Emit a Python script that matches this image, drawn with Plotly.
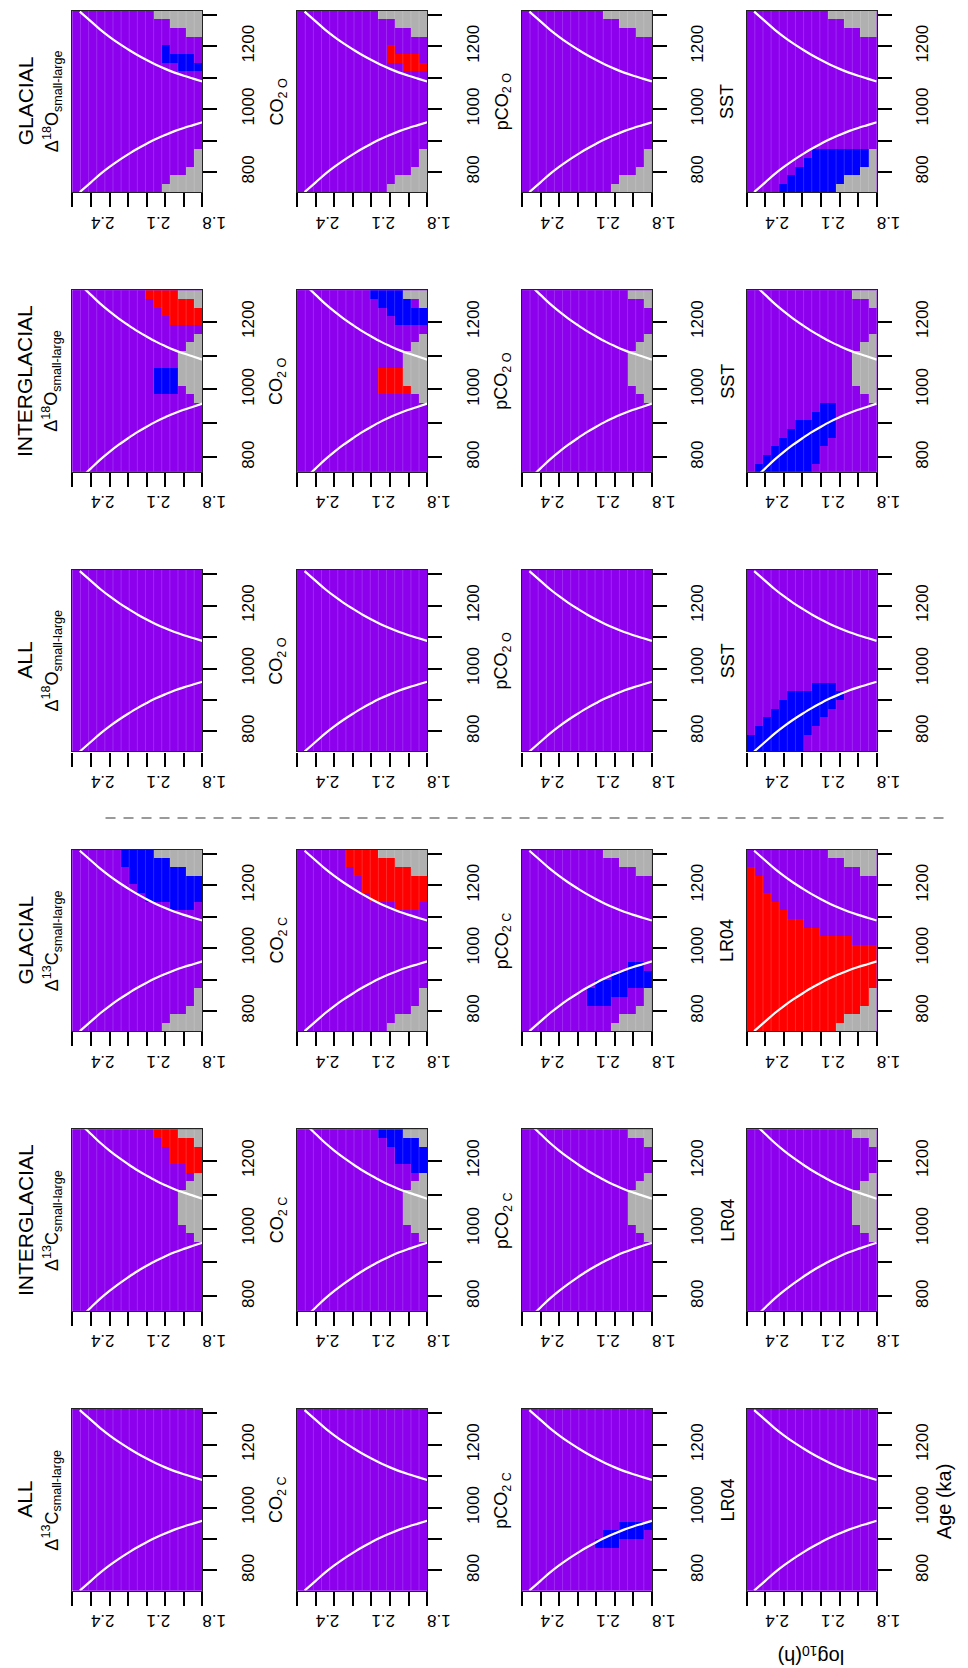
import numpy as np
import plotly.graph_objects as go

W, H = 968, 1668
PURPLE = "#8C00EE"
GRAY = "#B0B0B0"
BLUE = "#0000FF"
RED = "#FF0000"
FONT = "Liberation Sans, Arial, sans-serif"

# ---------------- data ----------------
periods = ["GLACIAL", "INTERGLACIAL", "ALL", "GLACIAL", "INTERGLACIAL", "ALL"]
iso_labels = ["Δ<sup>18</sup>O<sub>small-large</sub>"] * 3 + ["Δ<sup>13</sup>C<sub>small-large</sub>"] * 3
var_labels_O = ["CO<sub>2 O</sub>", "pCO<sub>2 O</sub>", "SST"]
var_labels_C = ["CO<sub>2 C</sub>", "pCO<sub>2 C</sub>", "LR04"]

# age grid (cell centres, ka) per period
age_grid = {"GLACIAL": (750, 1300), "INTERGLACIAL": (770, 1280), "ALL": (750, 1300)}
n_age, n_h = 21, 16
h_lo, h_hi = 1.8, 2.5

h_ticks = [2.4, 2.1, 1.8]
h_minor_ticks = [2.5, 2.3, 2.2, 2.0, 1.9]
age_ticks = [800, 1000, 1200]
age_minor_ticks = [900, 1100, 1300]

# grey (not tested) cells: (row from top, first col from left, last col)
gray_glacial = [(0, 10, 15), (1, 12, 15), (2, 14, 15), (16, 15, 15), (17, 15, 15),
                (18, 14, 15), (19, 12, 15), (20, 11, 15)]
gray_interglacial = [(0, 13, 15), (1, 15, 15), (5, 15, 15), (6, 14, 15), (7, 13, 15),
                     (8, 13, 15), (9, 13, 15), (10, 13, 15), (11, 14, 15), (12, 15, 15)]
gray_all = []

# significant cells: (code, row from top, first col, last col); 2 = blue, 3 = red
hl_gla_d18o = [(2, 4, 11, 11), (2, 5, 11, 14), (2, 6, 13, 15)]
hl_gla_co2o = [(3, 4, 11, 11), (3, 5, 11, 14), (3, 6, 13, 15)]
hl_gla_pco2o = []
hl_gla_sst = [(2, 16, 8, 14), (2, 17, 7, 14), (2, 18, 6, 13), (2, 19, 5, 11), (2, 20, 4, 10)]

hl_int_d18o = [(3, 0, 9, 12), (3, 1, 10, 14), (3, 2, 11, 15), (3, 3, 12, 15),
               (2, 9, 10, 12), (2, 10, 10, 12), (2, 11, 10, 12)]
hl_int_co2o = [(2, 0, 9, 12), (2, 1, 10, 13), (2, 2, 11, 15), (2, 3, 12, 15),
               (3, 9, 10, 12), (3, 10, 10, 12), (3, 11, 10, 13)]
hl_int_pco2o = []
hl_int_sst = [(2, 13, 9, 10), (2, 14, 8, 10), (2, 15, 6, 10), (2, 16, 5, 10),
              (2, 17, 4, 9), (2, 18, 3, 8), (2, 19, 2, 8), (2, 20, 1, 7)]

hl_all_d18o = []
hl_all_co2o = []
hl_all_pco2o = []
hl_all_sst = [(2, 13, 8, 10), (2, 14, 5, 11), (2, 15, 4, 10), (2, 16, 3, 9),
              (2, 17, 2, 8), (2, 18, 1, 7), (2, 19, 0, 6), (2, 20, 0, 6)]

hl_gla_d13c = [(2, 0, 6, 9), (2, 1, 6, 11), (2, 2, 7, 13), (2, 3, 7, 15), (2, 4, 8, 15),
               (2, 5, 9, 15), (2, 6, 12, 14)]
hl_gla_co2c = [(3, 0, 6, 9), (3, 1, 6, 11), (3, 2, 7, 13), (3, 3, 8, 15), (3, 4, 8, 15),
               (3, 5, 9, 15), (3, 6, 12, 14)]
hl_gla_pco2c = [(2, 13, 13, 14), (2, 14, 11, 15), (2, 15, 9, 15), (2, 16, 8, 12), (2, 17, 8, 10)]
hl_gla_lr04 = [(3, 2, 0, 0), (3, 3, 0, 1), (3, 4, 0, 1), (3, 5, 0, 2), (3, 6, 0, 3),
               (3, 7, 0, 4), (3, 8, 0, 6), (3, 9, 0, 8), (3, 10, 0, 12)] + \
              [(3, t, 0, 15) for t in range(11, 21)]

hl_int_d13c = [(3, 0, 10, 12), (3, 1, 11, 14), (3, 2, 12, 15), (3, 3, 12, 15), (3, 4, 14, 15)]
hl_int_co2c = [(2, 0, 10, 12), (2, 1, 11, 14), (2, 2, 12, 15), (2, 3, 12, 15), (2, 4, 14, 15)]
hl_int_pco2c = []
hl_int_lr04 = []

hl_all_d13c = []
hl_all_co2c = []
hl_all_pco2c = [(2, 13, 12, 15), (2, 14, 10, 14), (2, 15, 9, 11)]
hl_all_lr04 = []

panel_highlights = [
    [hl_gla_d18o, hl_gla_co2o, hl_gla_pco2o, hl_gla_sst],
    [hl_int_d18o, hl_int_co2o, hl_int_pco2o, hl_int_sst],
    [hl_all_d18o, hl_all_co2o, hl_all_pco2o, hl_all_sst],
    [hl_gla_d13c, hl_gla_co2c, hl_gla_pco2c, hl_gla_lr04],
    [hl_int_d13c, hl_int_co2c, hl_int_pco2c, hl_int_lr04],
    [hl_all_d13c, hl_all_co2c, hl_all_pco2c, hl_all_lr04],
]
gray_by_period = {"GLACIAL": gray_glacial, "INTERGLACIAL": gray_interglacial, "ALL": gray_all}

# white curves (log10 h, age ka)
curve_h = [2.46, 2.40, 2.35, 2.30, 2.25, 2.20, 2.15, 2.10, 2.05, 2.00, 1.95, 1.90, 1.85, 1.80]
curve_age_low = [736, 767, 793, 816, 837, 856, 874, 890, 905, 918, 930, 940, 949, 958]
curve_age_high = [1310, 1279, 1253, 1230, 1209, 1190, 1172, 1156, 1141, 1128, 1116, 1106, 1097, 1088]

# ---------------- layout geometry (px) ----------------
col_left = [66 + 230.5 * c for c in range(4)]
panel_w = 133.3
row_top = [2.5 + 279.7 * r for r in range(6)]
panel_h = 181.5


def px(x):
    return x / W


def py(y):
    return 1 - y / H


h_edges = np.linspace(h_lo, h_hi, n_h + 1)
cs = [[0, PURPLE], [0.25, PURPLE], [0.25, GRAY], [0.5, GRAY],
      [0.5, BLUE], [0.75, BLUE], [0.75, RED], [1, RED]]

fig = go.Figure()
layout = dict(width=W, height=H, margin=dict(l=0, r=0, t=0, b=0),
              paper_bgcolor="white", plot_bgcolor=PURPLE, showlegend=False,
              font=dict(family=FONT, color="black"))
annotations = []


def label(x, y, text, size, angle=-90):
    return dict(x=px(x), y=py(y), xref="paper", yref="paper", text=text,
                textangle=angle, showarrow=False, xanchor="center", yanchor="middle",
                font=dict(size=size, family=FONT, color="black"))


for r in range(6):
    period = periods[r]
    lo, hi = age_grid[period]
    step = (hi - lo) / (n_age - 1)
    age_edges = np.linspace(lo - step / 2, hi + step / 2, n_age + 1)
    for c in range(4):
        n = r * 4 + c + 1
        xa = "x" if n == 1 else f"x{n}"
        ya = "y" if n == 1 else f"y{n}"
        z = np.zeros((n_age, n_h))
        for code, t, j0, j1 in panel_highlights[r][c]:
            z[t, j0:j1 + 1] = code
        for t, j0, j1 in gray_by_period[period]:
            z[t, j0:j1 + 1] = 1
        z = z[::-1, ::-1]  # rows -> ascending age, cols -> ascending h
        fig.add_trace(go.Heatmap(x=h_edges, y=age_edges, z=z, zmin=0, zmax=3,
                                 colorscale=cs, showscale=False, hoverinfo="skip",
                                 xaxis=xa, yaxis=ya))
        # faint cell separators
        sx, sy = [], []
        for e in h_edges[1:-1]:
            sx += [e, e, None]
            sy += [age_edges[0], age_edges[-1], None]
        fig.add_trace(go.Scatter(x=sx, y=sy, mode="lines",
                                 line=dict(color="rgba(255,255,255,0.16)", width=1),
                                 hoverinfo="skip", xaxis=xa, yaxis=ya))
        for ages in (curve_age_low, curve_age_high):
            fig.add_trace(go.Scatter(x=curve_h, y=ages, mode="lines",
                                     line=dict(color="white", width=2.2, shape="spline"),
                                     hoverinfo="skip", xaxis=xa, yaxis=ya))
        x0 = col_left[c]
        y0 = row_top[r]
        layout["xaxis" + ("" if n == 1 else str(n))] = dict(
            domain=[px(x0), px(x0 + panel_w)], anchor=ya, range=[h_hi, h_lo],
            tickmode="array", tickvals=h_ticks, ticktext=[f"{v:.1f}" for v in h_ticks],
            ticks="outside", ticklen=14, tickwidth=2, tickcolor="black",
            minor=dict(tickmode="array", tickvals=h_minor_ticks, ticks="outside",
                       ticklen=14, tickwidth=2, tickcolor="black", showgrid=False),
            tickangle=180, tickfont=dict(size=17, family=FONT, color="black"),
            ticklabelstandoff=6,
            showline=True, linecolor="#222", linewidth=1.2, mirror=True,
            showgrid=False, zeroline=False, fixedrange=True)
        layout["yaxis" + ("" if n == 1 else str(n))] = dict(
            domain=[py(y0 + panel_h), py(y0)], anchor=xa, side="right",
            range=[age_edges[0], age_edges[-1]],
            tickmode="array", tickvals=age_ticks, ticktext=[str(v) for v in age_ticks],
            ticks="outside", ticklen=14, tickwidth=2, tickcolor="black",
            minor=dict(tickmode="array", tickvals=age_minor_ticks, ticks="outside",
                       ticklen=14, tickwidth=2, tickcolor="black", showgrid=False),
            tickangle=-90, tickfont=dict(size=17, family=FONT, color="black"),
            ticklabelstandoff=16,
            showline=True, linecolor="#222", linewidth=1.2, mirror=True,
            showgrid=False, zeroline=False, fixedrange=True)
        yc = y0 + panel_h / 2
        if c == 0:
            annotations.append(label(17.5, yc, period, 21))
            annotations.append(label(45, yc, iso_labels[r], 18))
        else:
            labels = var_labels_O if r < 3 else var_labels_C
            annotations.append(label(x0 - 19.5, yc, labels[c - 1], 18))

annotations.append(label(823, 1648, "log<sub>10</sub>(h)", 20, angle=180))
annotations.append(label(960, 1493, "Age (ka)", 20))

layout["annotations"] = annotations
layout["shapes"] = [dict(type="line", xref="paper", yref="paper",
                         x0=px(100), x1=px(962), y0=py(810), y1=py(810),
                         line=dict(color="#9A9A9A", width=2, dash="10px,8px"))]
fig.update_layout(**layout)
fig.write_html("out.html")
